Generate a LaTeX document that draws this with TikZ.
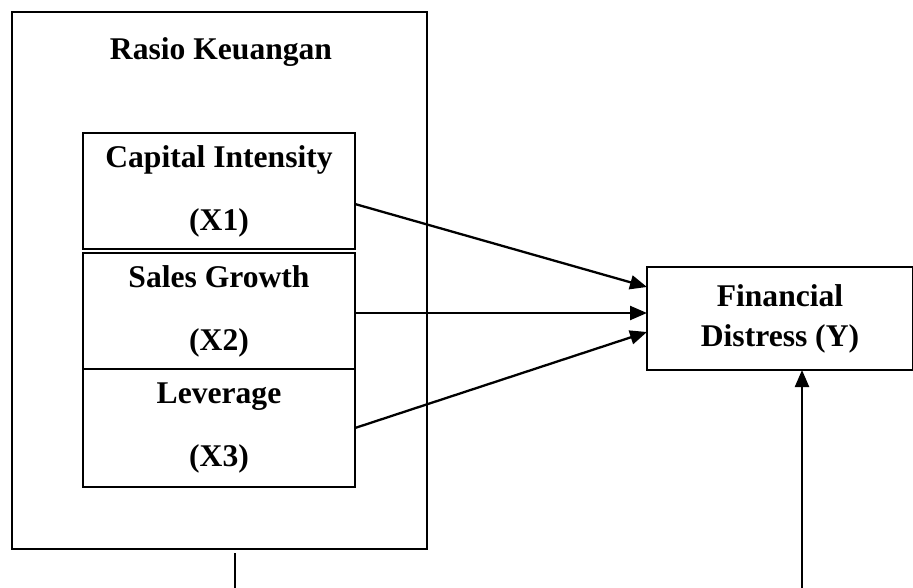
\documentclass[tikz,border=0pt]{standalone}
\usepackage{fontspec}
\setmainfont{Liberation Serif}
\usetikzlibrary{arrows.meta}
\begin{document}
\begin{tikzpicture}[x=1pt,y=-1pt,
  txt/.style={font=\bfseries\fontsize{31.6}{38}\selectfont, inner sep=0pt},
  outerbox/.style={draw, line width=2.6pt, inner sep=0pt, outer sep=0pt},
  varbox/.style={draw, line width=1.2pt, inner sep=0pt, outer sep=0pt,
    minimum width=272pt, align=center,
    font=\bfseries\fontsize{31.6}{63}\selectfont},
  ybox/.style={draw, line width=1.5pt, inner sep=0pt, outer sep=0pt,
    align=center, font=\bfseries\fontsize{31.6}{40}\selectfont},
  arr/.style={line width=2.3pt, -{Triangle[length=17pt,width=14pt]}},
  ln/.style={line width=2.3pt}
]
\useasboundingbox (0,0) rectangle (913,588);
\node[outerbox, minimum width=415pt, minimum height=537pt] (outer) at (219.5,280.5) {};
\node[txt] (title) at (221,52) {Rasio Keuangan};
\node[varbox, minimum height=116pt] (x1) at (219,191) {Capital Intensity\\(X1)};
\node[varbox, minimum height=116pt] (x2) at (219,311) {Sales Growth\\(X2)};
\node[varbox, minimum height=118pt] (x3) at (219,428) {Leverage\\(X3)};
\node[ybox, minimum width=266pt, minimum height=103pt] (fd) at (780,318.5) {Financial\\Distress (Y)};
\draw[arr] ([yshift=-13pt]x1.east) -- ([yshift=31.5pt]fd.west);
\draw[arr] ([yshift=-2pt]x2.east) -- ([yshift=5.5pt]fd.west);
\draw[arr] (x3.east) -- ([yshift=-13.5pt]fd.west);
\coordinate (b1) at (235,553);
\coordinate (b2) at (235,588);
\coordinate (b3) at (802,588);
\draw[ln] (b1) -- (b2);
\draw[arr] (b3) -- (b3 |- fd.south);
\end{tikzpicture}
\end{document}
